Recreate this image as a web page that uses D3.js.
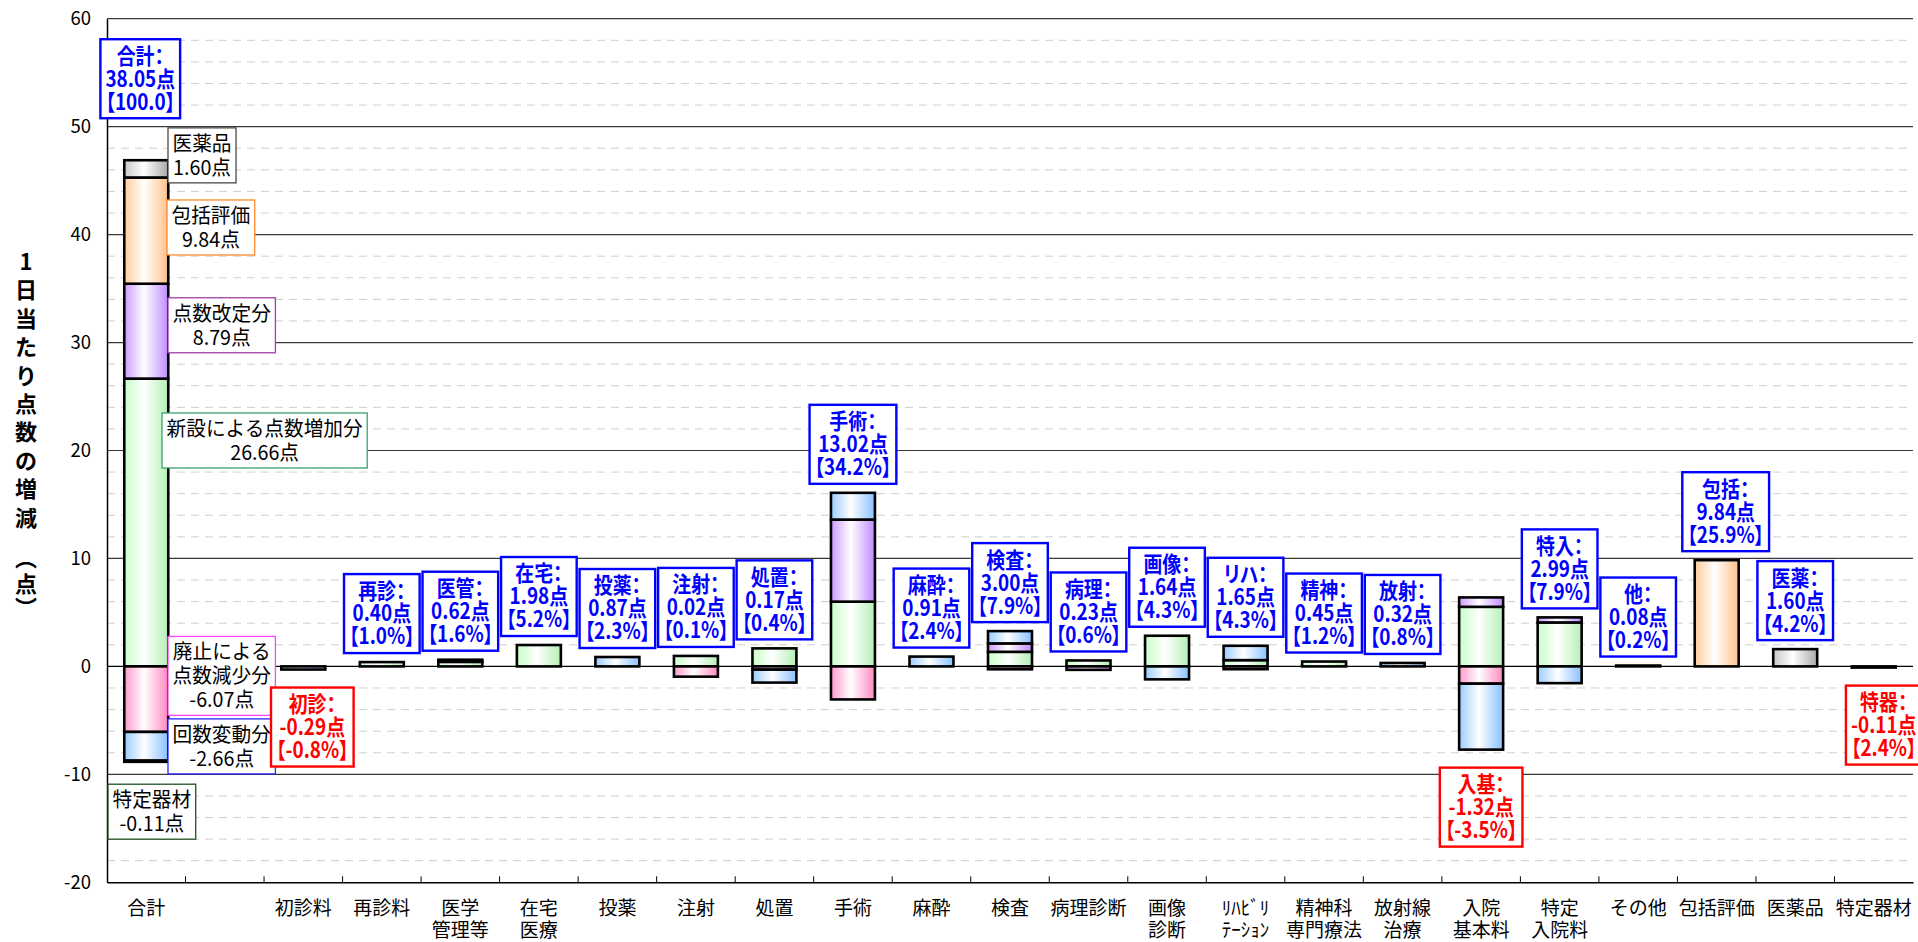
<!DOCTYPE html>
<html>
<head>
<meta charset="utf-8">
<script src="https://cdn.jsdelivr.net/npm/d3@7"></script>
<style>
  body { margin: 0; background: #fff; }
  svg text { font-family: "Noto Sans CJK JP", "Noto Sans", sans-serif; }
</style>
</head>
<body>
<div id="chart"></div>
<script>
// categories along the x axis ("\n" = second line of the label)
const categories = ["合計", "", "初診料", "再診料", "医学\n管理等", "在宅\n医療", "投薬", "注射", "処置",
  "手術", "麻酔", "検査", "病理診断", "画像\n診断", "ﾘﾊﾋﾞﾘ\nﾃｰｼｮﾝ", "精神科\n専門療法", "放射線\n治療",
  "入院\n基本料", "特定\n入院料", "その他", "包括評価", "医薬品", "特定器材"];

// stacked components (points per day)
const newItems  = [26.66, 0, 0, 0.40, 0.42, 1.98, 0, 0.97, 1.67, 6.00, 0, 1.35, 0.55, 2.84, 0.58, 0.45, 0, 5.52, 4.07, 0.08, 0, 0, 0];     // 新設による点数増加分
const revision  = [8.79, 0, 0, 0, 0, 0, 0, 0, -0.30, 7.60, 0, 0.78, -0.32, 0, 0, 0, 0, 0.87, 0.47, 0, 0, 0, 0];                       // 点数改定分
const abolished = [-6.07, 0, 0, 0, 0, 0, 0, -0.95, 0, -3.06, 0, -0.27, 0, 0, -0.26, 0, 0, -1.60, 0, 0, 0, 0, 0];                     // 廃止による点数減少分
const frequency = [-2.66, 0, -0.29, 0, 0.20, 0, 0.87, 0, -1.20, 2.48, 0.91, 1.14, 0, -1.20, 1.33, 0, 0.32, -6.11, -1.55, 0, 0, 0, 0]; // 回数変動分
const bundled   = [9.84, 0, 0, 0, 0, 0, 0, 0, 0, 0, 0, 0, 0, 0, 0, 0, 0, 0, 0, 0, 9.84, 0, 0];                                       // 包括評価
const drugs     = [1.60, 0, 0, 0, 0, 0, 0, 0, 0, 0, 0, 0, 0, 0, 0, 0, 0, 0, 0, 0, 0, 1.60, 0];                                       // 医薬品
const materials = [-0.11, 0, 0, 0, 0, 0, 0, 0, 0, 0, 0, 0, 0, 0, 0, 0, 0, 0, 0, 0, 0, 0, -0.11];                                    // 特定器材

// label boxes above / below each bar
const shortNames = ["合計", "", "初診", "再診", "医管", "在宅", "投薬", "注射", "処置", "手術", "麻酔", "検査", "病理",
  "画像", "リハ", "精神", "放射", "入基", "特入", "他", "包括", "医薬", "特器"];
const netPoints = [38.05, null, -0.29, 0.40, 0.62, 1.98, 0.87, 0.02, 0.17, 13.02, 0.91, 3.00, 0.23, 1.64, 1.65, 0.45, 0.32,
  -1.32, 2.99, 0.08, 9.84, 1.60, -0.11];
const shares = ["100.0", "", "-0.8%", "1.0%", "1.6%", "5.2%", "2.3%", "0.1%", "0.4%", "34.2%", "2.4%", "7.9%", "0.6%",
  "4.3%", "4.3%", "1.2%", "0.8%", "-3.5%", "7.9%", "0.2%", "25.9%", "4.2%", "2.4%"];

// legend boxes beside the total bar
const legendNames  = ["医薬品", "包括評価", "点数改定分", "新設による点数増加分", "廃止による\n点数減少分", "回数変動分", "特定器材"];
const legendValues = [1.60, 9.84, 8.79, 26.66, -6.07, -2.66, -0.11];

const yTicks = [-20, -10, 0, 10, 20, 30, 40, 50, 60];

// ---- layout
const W = 1918, H = 942;
const plotLeft = 107, plotRight = 1913, plotTop = 18.7, plotBottom = 882.3;

const svg = d3.select("#chart").append("svg").attr("width", W).attr("height", H);

const x = d3.scaleBand()
  .domain(d3.range(categories.length))
  .range([plotLeft, plotRight])
  .paddingInner(0.44)
  .paddingOuter(0.22);
const step = x.step();
const cx = i => x(i) + x.bandwidth() / 2;

const y = d3.scaleLinear().domain([-20, 60]).range([plotBottom, plotTop]);

// series in stacking order
const series = [
  { id: "g-new",  values: newItems,  light: "#c8ffc8", dark: "#b4f0b4" },
  { id: "g-rev",  values: revision,  light: "#cc99ff", dark: "#c08aff" },
  { id: "g-abo",  values: abolished, light: "#ff99cc", dark: "#ff88c0" },
  { id: "g-frq",  values: frequency, light: "#99ccff", dark: "#88c0ff" },
  { id: "g-bun",  values: bundled,   light: "#ffcc99", dark: "#ffc088" },
  { id: "g-drg",  values: drugs,     light: "#c8c8c8", dark: "#a8a8a8" },
  { id: "g-mat",  values: materials, light: "#336633", dark: "#224422" }
];

const defs = svg.append("defs");
series.forEach(s => {
  const lg = defs.append("linearGradient").attr("id", s.id).attr("x1", 0).attr("x2", 1).attr("y1", 0).attr("y2", 0);
  lg.append("stop").attr("offset", "0%").attr("stop-color", s.light);
  lg.append("stop").attr("offset", "45%").attr("stop-color", s.id === "g-mat" ? s.light : "#ffffff");
  lg.append("stop").attr("offset", "100%").attr("stop-color", s.dark);
});

// ---- gridlines
const minor = d3.range(-20, 61, 2).filter(v => v % 10 !== 0);
svg.append("g").selectAll("line").data(minor).join("line")
  .attr("x1", plotLeft).attr("x2", plotRight)
  .attr("y1", d => y(d)).attr("y2", d => y(d))
  .attr("stroke", "#cfcfcf").attr("stroke-width", 1).attr("stroke-dasharray", "8,6");

svg.append("g").selectAll("line").data(yTicks.filter(v => v > -20)).join("line")
  .attr("x1", plotLeft).attr("x2", plotRight)
  .attr("y1", d => y(d)).attr("y2", d => y(d))
  .attr("stroke", d => d === 0 ? "#000" : "#3a3a3a").attr("stroke-width", 1.2);

// ---- bars
const segs = [];
categories.forEach((c, i) => {
  let pos = 0, neg = 0;
  series.forEach(s => {
    const v = s.values[i];
    if (!v) return;
    if (v > 0) { segs.push({ i, s, y0: pos, y1: pos + v }); pos += v; }
    else { segs.push({ i, s, y0: neg, y1: neg + v }); neg += v; }
  });
});

svg.append("g").selectAll("rect").data(segs).join("rect")
  .attr("x", d => x(d.i))
  .attr("width", x.bandwidth())
  .attr("y", d => y(Math.max(d.y0, d.y1)))
  .attr("height", d => Math.abs(y(d.y0) - y(d.y1)))
  .attr("fill", d => `url(#${d.s.id})`)
  .attr("stroke", "#000")
  .attr("stroke-width", 2.6);

// ---- axes
const yAxis = svg.append("g")
  .attr("transform", `translate(${plotLeft},0)`)
  .call(d3.axisLeft(y).tickValues(yTicks).tickFormat(d => String(d)).tickSize(0).tickSizeOuter(0).tickPadding(16));
yAxis.select(".domain").attr("stroke", "#000").attr("stroke-width", 1.5);
yAxis.selectAll("text")
  .attr("font-family", "'Liberation Sans', Arial, sans-serif")
  .attr("font-size", 18.5).attr("fill", "#000");

const xAxis = svg.append("g")
  .attr("transform", `translate(0,${plotBottom})`)
  .call(d3.axisBottom(x).tickSize(0).tickSizeOuter(0).tickFormat(i => categories[i]));
xAxis.select(".domain").attr("stroke", "#000").attr("stroke-width", 1.5);
xAxis.selectAll("text").each(function (i) {
  const t = d3.select(this);
  t.text(null).attr("y", null).attr("dy", null)
    .attr("font-size", 19).attr("fill", "#000")
    .attr("font-family", "'Noto Sans CJK JP', sans-serif");
  categories[i].split("\n").forEach((line, k) => {
    t.append("tspan").attr("x", 0).attr("y", 26 + 22 * k).attr("dy", "0.35em").text(line);
  });
});
// boundary ticks pointing up
xAxis.append("g").selectAll("line").data(d3.range(1, categories.length)).join("line")
  .attr("x1", i => plotLeft + i * step).attr("x2", i => plotLeft + i * step)
  .attr("y1", 0).attr("y2", -6)
  .attr("stroke", "#000").attr("stroke-width", 1);

// ---- text boxes
const boxLayer = svg.append("g");

function makeBox(lines, o) {
  const g = boxLayer.append("g");
  const rect = g.append("rect").attr("fill", "#fff").attr("stroke", o.border).attr("stroke-width", o.borderWidth);
  const tg = g.append("g");
  const text = tg.append("text")
    .attr("text-anchor", "middle")
    .attr("font-size", o.fontSize).attr("font-weight", o.weight)
    .attr("fill", o.color)
    .style("font-feature-settings", o.palt ? "'palt'" : "normal");
  const spans = lines.map((l, k) => text.append("tspan")
    .attr("x", 0).attr("y", o.lineH * (k + 0.5)).attr("dy", "0.36em").text(l));
  const tw = d3.max(spans, t => t.node().getComputedTextLength()) * o.sx;
  const w = tw + 2 * o.padX, h = lines.length * o.lineH + 2 * o.padY;
  return {
    w, h,
    place(left, top) {
      rect.attr("x", left).attr("y", top).attr("width", w).attr("height", h);
      tg.attr("transform", `translate(${left + w / 2},${top + o.padY}) scale(${o.sx},1)`);
    }
  };
}

// legend boxes for the total bar: [left px, centre value]
const legendBorders = ["#4a4a4a", "#ff8a2a", "#a040a8", "#3aa070", "#ff44ff", "#2828ff", "#1f4f1f"];
const legendPos = [[168, 47.34], [167, 40.66], [168, 31.6], [162, 20.93], [168, -0.88], [168, -7.41], [108, -13.46]];
legendNames.forEach((name, k) => {
  const lines = name.split("\n").concat(legendValues[k].toFixed(2) + "点");
  const b = makeBox(lines, { fontSize: 20.5, weight: 400, color: "#000", border: legendBorders[k], borderWidth: 1.3,
    lineH: 24, padX: 4.5, padY: 3.5, sx: 0.96, palt: false });
  b.place(legendPos[k][0], y(legendPos[k][1]) - b.h / 2);
});

// category label boxes
const labelShift = { 0: -6, 2: 9, 20: 9, 22: 10 };
categories.forEach((c, i) => {
  if (netPoints[i] === null) return;
  let pos = 0, neg = 0;
  series.forEach(s => { const v = s.values[i]; if (v > 0) pos += v; else neg += v; });
  const v = netPoints[i];
  const color = v < 0 ? "#ff0000" : "#0000ff";
  const lines = [shortNames[i] + "：", v.toFixed(2) + "点", "【" + shares[i] + "】"];
  const b = makeBox(lines, { fontSize: 22, weight: 700, color, border: color, borderWidth: 2.4,
    lineH: 23, padX: 5, padY: 5, sx: 0.86, palt: true });
  const mid = cx(i) + (labelShift[i] || 0);
  let top;
  if (i === 0) top = y(pos) - 42 - b.h;
  else if (v >= 0) top = y(pos) - 9 - b.h;
  else top = y(neg) + 18;
  b.place(mid - b.w / 2, top);
});

// ---- y axis title (vertical, one glyph per tspan)
const titleChars = ["1", "日", "当", "た", "り", "点", "数", "の", "増", "減", "︵", "点", "︶"];
const titleText = svg.append("text")
  .attr("font-size", 22).attr("font-weight", 700).attr("fill", "#000").attr("text-anchor", "middle");
titleChars.forEach((ch, k) => {
  const yy = k < 10 ? 262 + k * 28.4 : [558, 584, 608][k - 10];
  titleText.append("tspan").attr("x", 26).attr("y", yy).attr("dy", "0.36em").text(ch);
});
</script>
</body>
</html>
